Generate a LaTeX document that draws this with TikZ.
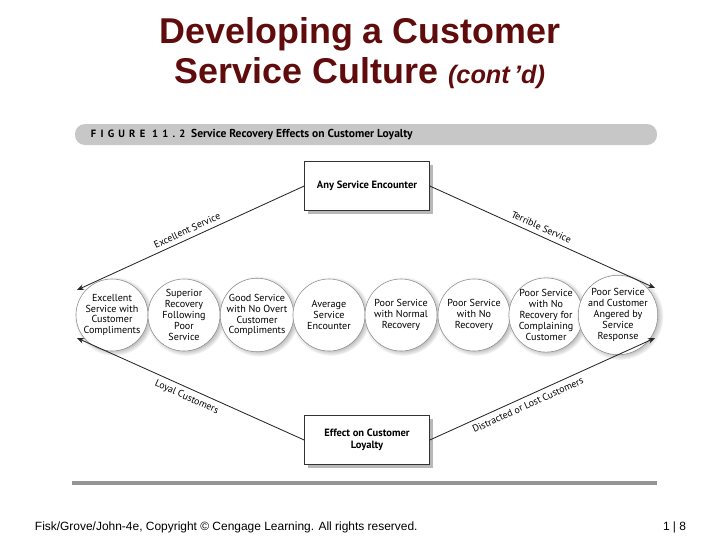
\documentclass[tikz,border=0pt]{standalone}
\usepackage{fontspec}
\setmainfont{Liberation Sans}
\newfontfamily\figfont{PT Sans}
\newfontfamily\capfont[LetterSpace=40]{PT Sans}
\usetikzlibrary{arrows.meta,shadows}
\definecolor{titlered}{RGB}{96,12,12}
\tikzset{
  stage/.style={circle, draw=black!45, fill=white, minimum size=1.8cm, inner sep=0pt, align=center,
    font=\figfont\fontsize{7.2}{7.7}\selectfont,
    circular drop shadow={shadow xshift=1.2pt, shadow yshift=-0.8pt, fill=black!25, opacity=1}},
  outcome/.style={draw=black!80, fill=white, minimum width=3.125cm, minimum height=1.225cm, align=center,
    font=\figfont\bfseries\fontsize{7.5}{8.8}\selectfont,
    drop shadow={shadow xshift=2.4pt, shadow yshift=-2.4pt, fill=black!28, opacity=1}},
  flow/.style={draw=black!85, semithick, -{Stealth[length=5pt,width=4pt]}},
  flowlabel/.style={sloped, inner sep=3.2pt, font=\figfont\fontsize{7}{8}\selectfont}
}

\begin{document}
\begin{tikzpicture}[x=0.025cm,y=-0.025cm]
        \useasboundingbox (0,0) rectangle (720,540);
        % title
            \node[font=\bfseries\fontsize{25.5}{28.5}\selectfont, text=titlered, align=center] (title) at (360,53)
                {Developing a Customer\\Service Culture {\itshape\fontsize{18}{20}\selectfont(cont\,’d)}};
        % figure caption bar
            \fill[black!22, rounded corners=0.25cm] (75,124) rectangle (657,145);
            \node[anchor=west, font=\figfont\bfseries\fontsize{8.2}{9}\selectfont] (figcap) at (86,134.5)
                {{\capfont\bfseries\fontsize{7.5}{9}\selectfont FIGURE 11.2}\enspace Service Recovery Effects on Customer Loyalty};
        % boxes
            \node[outcome] (any) at (367,186) {Any Service Encounter};
            \node[outcome] (effect) at (367,440) {Effect on Customer\\Loyalty};
        % circles
            \node[stage] (c1) at (112,315) {Excellent\\Service with\\Customer\\Compliments};
            \node[stage] (c2) at (184,315) {Superior\\Recovery\\Following\\Poor\\Service};
            \node[stage] (c3) at (257,315) {Good Service\\with No Overt\\Customer\\Compliments};
            \node[stage] (c4) at (329,315) {Average\\Service\\Encounter};
            \node[stage] (c5) at (401,315) {Poor Service\\with Normal\\Recovery};
            \node[stage] (c6) at (474,315) {Poor Service\\with No\\Recovery};
            \node[stage] (c7) at (546,315) {Poor Service\\with No\\Recovery for\\Complaining\\Customer};
            \node[stage] (c8) at (618,315) {Poor Service\\and Customer\\Angered by\\Service\\Response};
        % arrow tips
            \coordinate (tipTL) at (77,290);
            \coordinate (tipBL) at (77,338);
            \coordinate (tipTR) at (655,288);
            \coordinate (tipBR) at (655,338);
        % lines
            \draw[flow] (any.west) -- node[flowlabel, above, pos=0.5] (excellent) {Excellent Service} (tipTL);
            \draw[flow] (any.east) -- node[flowlabel, above, pos=0.48] (terrible) {Terrible Service} (tipTR);
            \draw[flow] (effect.west) -- node[flowlabel, below, pos=0.5] (loyal) {Loyal Customers} (tipBL);
            \draw[flow] (effect.east) -- node[flowlabel, below, pos=0.42] (lost) {Distracted or Lost Customers} (tipBR);
        % bottom rule
            \fill[black!42] (72,481) rectangle (657,485);
        % footer
            \node[anchor=west, font=\fontsize{8.5}{10}\selectfont] (copyright) at (30,527)
                {Fisk/Grove/John-4e, Copyright © Cengage Learning. All rights reserved.};
            \node[anchor=east, font=\fontsize{8.5}{10}\selectfont] (pagenum) at (691,527) {1 | 8};
\end{tikzpicture}
\end{document}
